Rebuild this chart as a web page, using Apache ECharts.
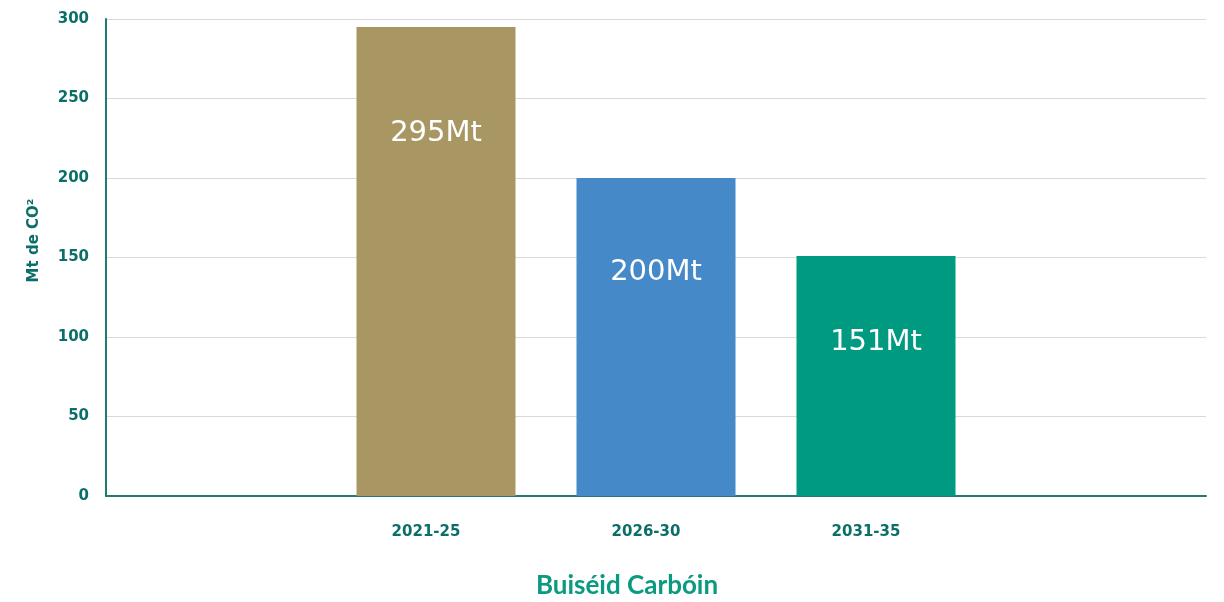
<!DOCTYPE html>
<html>
<head>
<meta charset="utf-8">
<script src="https://cdn.jsdelivr.net/npm/echarts@6/dist/echarts.min.js"></script>
<style>
  html, body { margin: 0; padding: 0; background: #ffffff; }
  #chart { width: 1224px; height: 602px; }
</style>
</head>
<body>
<div id="chart"></div>
<script>
// data
const periods = ['', '2021-25', '2026-30', '2031-35', ''];
const budgetMt = [null, 295, 200, 151, null];
const barColors = ['#a89763', '#a89763', '#4589c9', '#009a80', '#009a80'];
const yTicks = [0, 50, 100, 150, 200, 250, 300];

const teal = '#0b6f68';
// how far down from the bar top each label sits (px)
const labelDist = [0, 92, 80, 72, 0];

const chart = echarts.init(document.getElementById('chart'));

chart.setOption({
  animation: false,
  grid: { left: 106, right: 18, top: 19, bottom: 106, outerBoundsMode: 'none' },
  xAxis: {
    type: 'category',
    data: periods,
    axisLine: { lineStyle: { color: '#1f7a72', width: 2 } },
    axisTick: { show: false },
    axisLabel: {
      color: teal, fontFamily: 'DejaVu Sans', fontWeight: 'bold', fontSize: 15, margin: 29,
      padding: [0, 20, 0, 0]
    },
    name: 'Buiséid Carbóin',
    nameLocation: 'middle',
    nameGap: 77,
    nameTextStyle: {
      color: '#0a9a7f', fontFamily: 'Lato', fontWeight: 'bold', fontSize: 26,
      padding: [0, 58, 0, 0]
    }
  },
  yAxis: {
    type: 'value',
    min: yTicks[0],
    max: yTicks[yTicks.length - 1],
    interval: 50,
    axisLine: { show: true, lineStyle: { color: '#1f7a72', width: 2 } },
    axisTick: { show: false },
    splitLine: { lineStyle: { color: '#d9d9d9', width: 1 } },
    axisLabel: {
      color: teal, fontFamily: 'DejaVu Sans', fontWeight: 'bold', fontSize: 15, margin: 17,
      padding: [3, 0, 0, 0]
    },
    name: 'Mt de CO²',
    nameLocation: 'middle',
    nameGap: 64,
    nameTextStyle: {
      color: teal, fontFamily: 'DejaVu Sans', fontWeight: 'bold', fontSize: 15,
      padding: [0, 0, 0, 34]
    }
  },
  series: [{
    type: 'bar',
    barWidth: 159,
    data: budgetMt.map((v, i) => ({
      value: v,
      itemStyle: { color: barColors[i] },
      label: { distance: labelDist[i] }
    })),
    label: {
      show: true,
      position: 'insideTop',
      color: '#ffffff',
      fontFamily: 'DejaVu Sans',
      fontSize: 29,
      formatter: p => p.value + 'Mt'
    }
  }]
});
</script>
</body>
</html>
